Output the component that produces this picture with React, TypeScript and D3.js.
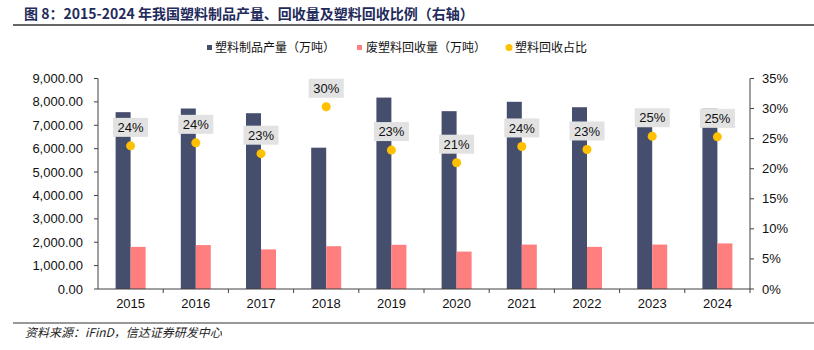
import React from "react";
import * as d3 from "d3";

const years = ["2015", "2016", "2017", "2018", "2019", "2020", "2021", "2022", "2023", "2024"];
const production = [7560.7, 7717.2, 7515.5, 6042.1, 8184.2, 7603.2, 8004.0, 7771.6, 7488.5, 7707.7];
const recycled = [1800, 1878, 1693, 1830, 1890, 1600, 1900, 1800, 1900, 1950];
const ratio = [23.8, 24.3, 22.5, 30.3, 23.1, 21.0, 23.7, 23.2, 25.4, 25.3];
const leftTicks = [0, 1000, 2000, 3000, 4000, 5000, 6000, 7000, 8000, 9000];
const rightTicks = [0, 5, 10, 15, 20, 25, 30, 35];
const seriesNames = ["塑料制品产量（万吨）", "废塑料回收量（万吨）", "塑料回收占比"];
const title = "图 8：2015-2024 年我国塑料制品产量、回收量及塑料回收比例（右轴）";
const source = "资料来源：iFinD，信达证券研发中心";

const W = 814;
const H = 350;
const left = 98;
const right = 750;
const top = 78.5;
const bottom = 289;

const NAVY = "#464E6E";
const PINK = "#FF7F7F";
const GOLD = "#FFC000";
const FONT = "'Liberation Sans', Arial, 'Noto Sans CJK SC', sans-serif";
const CJK = "'Noto Sans CJK SC', 'Liberation Sans', sans-serif";

export default function App() {
  const x = d3.scaleBand<string>().domain(years).range([left, right]).padding(0);
  const bw = x.bandwidth();
  const inner = d3.scaleBand<string>().domain(["p", "r"]).range([bw / 2 - 15, bw / 2 + 15]).padding(0);
  const yL = d3.scaleLinear().domain([0, 9000]).range([bottom, top]);
  const yR = d3.scaleLinear().domain([0, 35]).range([bottom, top]);
  const fmtL = d3.format(",.2f");
  const axisColor = "#404040";

  return (
    <svg width={W} height={H} style={{ position: "absolute", left: 0, top: 0, background: "#fff" }}>
      {/* title */}
      <text x={24} y={19} fontFamily={CJK} fontWeight="bold" fontSize={14} fill="#1F2B5B">
        {title}
      </text>
      <line x1={13} x2={814} y1={25} y2={25} stroke="#333" strokeWidth={1.6} />

      {/* legend */}
      <rect x={207} y={45} width={5} height={5} fill={NAVY} />
      <text x={215} y={52} fontFamily={CJK} fontSize={12} fill="#111">{seriesNames[0]}</text>
      <rect x={357} y={45} width={5} height={5} fill={PINK} />
      <text x={366} y={52} fontFamily={CJK} fontSize={12} fill="#111">{seriesNames[1]}</text>
      <circle cx={509} cy={47.5} r={3.5} fill={GOLD} />
      <text x={515} y={52} fontFamily={CJK} fontSize={12} fill="#111">{seriesNames[2]}</text>

      {/* bars */}
      {years.map((yr, i) => (
        <g key={yr}>
          <rect
            x={(x(yr) as number) + (inner("p") as number)}
            y={yL(production[i])}
            width={inner.bandwidth()}
            height={bottom - yL(production[i])}
            fill={NAVY}
          />
          <rect
            x={(x(yr) as number) + (inner("r") as number)}
            y={yL(recycled[i])}
            width={inner.bandwidth()}
            height={bottom - yL(recycled[i])}
            fill={PINK}
          />
        </g>
      ))}

      {/* axes */}
      <line x1={left} x2={left} y1={top} y2={bottom} stroke={axisColor} />
      {leftTicks.map((t) => (
        <g key={"l" + t}>
          <line x1={left - 4} x2={left} y1={yL(t)} y2={yL(t)} stroke={axisColor} />
          <text x={83} y={yL(t)} dy="0.35em" textAnchor="end" fontFamily={FONT} fontSize={13} fill="#111">
            {fmtL(t)}
          </text>
        </g>
      ))}
      <line x1={right} x2={right} y1={top} y2={bottom} stroke={axisColor} />
      {rightTicks.map((t) => (
        <g key={"r" + t}>
          <line x1={right} x2={right + 4} y1={yR(t)} y2={yR(t)} stroke={axisColor} />
          <text x={762} y={yR(t)} dy="0.35em" textAnchor="start" fontFamily={FONT} fontSize={13} fill="#111">
            {t + "%"}
          </text>
        </g>
      ))}
      <line x1={left} x2={right} y1={bottom} y2={bottom} stroke={axisColor} />
      {years.map((yr) => (
        <g key={"x" + yr}>
          <line x1={(x(yr) as number) + bw} x2={(x(yr) as number) + bw} y1={bottom} y2={bottom + 4} stroke={axisColor} />
          <text x={(x(yr) as number) + bw / 2} y={303} dy="0.35em" textAnchor="middle" fontFamily={FONT} fontSize={13} fill="#111">
            {yr}
          </text>
        </g>
      ))}

      {/* ratio dots and labels */}
      {years.map((yr, i) => {
        const cx = (x(yr) as number) + bw / 2;
        const cy = yR(ratio[i]);
        const ly = cy - 18.5;
        return (
          <g key={"d" + yr}>
            <rect x={cx - 17.5} y={ly - 9.5} width={35} height={19} fill="#E2E2E2" />
            <text x={cx} y={ly} dy="0.36em" textAnchor="middle" fontFamily={FONT} fontSize={13} fill="#111">
              {Math.round(ratio[i]) + "%"}
            </text>
            <circle cx={cx} cy={cy} r={4.5} fill={GOLD} />
          </g>
        );
      })}

      {/* footer */}
      <line x1={13} x2={814} y1={323} y2={323} stroke="#333" strokeWidth={1.2} />
      <text x={25} y={337} fontFamily="'Noto Sans CJK SC', serif" fontStyle="italic" fontSize={12} fill="#222">
        {source}
      </text>
    </svg>
  );
}
